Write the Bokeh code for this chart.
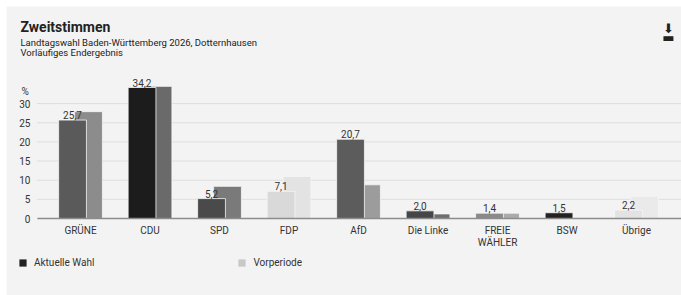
from bokeh.plotting import figure
from bokeh.models import (Range1d, ColumnDataSource, Label, Legend, LegendItem)
from bokeh.core.properties import value
from bokeh.transform import dodge
from bokeh.embed import file_html
from bokeh.resources import INLINE

parties = ["GRÜNE", "CDU", "SPD", "FDP", "AfD", "Die Linke", "FREIE WÄHLER", "BSW", "Übrige"]
axis_labels = ["GRÜNE", "CDU", "SPD", "FDP", "AfD", "Die Linke", "FREIE\nWÄHLER", "BSW", "Übrige"]
current = [25.7, 34.2, 5.2, 7.1, 20.7, 2.0, 1.4, 1.5, 2.2]
previous = [27.9, 34.5, 8.4, 11.0, 8.8, 1.2, 1.4, 0.0, 5.8]
current_labels = ["25,7", "34,2", "5,2", "7,1", "20,7", "2,0", "1,4", "1,5", "2,2"]
current_colors = ["#5a5a5a", "#1c1c1c", "#4a4a4a", "#d9d9d9", "#5c5c5c",
                  "#464646", "#8a8a8a", "#222222", "#e3e3e3"]
previous_colors = ["#8c8c8c", "#6a6a6a", "#7a7a7a", "#e3e3e3", "#9c9c9c",
                   "#6e6e6e", "#ababab", "#bdbdbd", "#eaeaea"]
y_ticks = [0, 5, 10, 15, 20, 25, 30]
y_tick_labels = ["0", "5", "10", "15", "20", "25", "30"]
legend_labels = ["Aktuelle Wahl", "Vorperiode"]
legend_colors = ["#222222", "#c8c8c8"]

FONT = "Roboto"
BG = "#f3f3f3"
TXT = "#333333"

# layout constants (plot frame fills the canvas; ranges chosen to place the chart area)
W, H = 675, 289
X_START, X_END = -1.065, 8.647
Y_START, Y_END = -20.1, 55.35
GRID_X0 = -0.62

idx = list(range(len(parties)))
src = ColumnDataSource(dict(i=idx, party=parties, cur=current, prev=previous,
                            zero=[0] * len(parties), lab=current_labels, xl=axis_labels,
                            cc=current_colors, pc=previous_colors))
grid_src = ColumnDataSource(dict(y=y_ticks, t=y_tick_labels,
                                 x0=[GRID_X0] * len(y_ticks), x1=[X_END] * len(y_ticks)))

p = figure(x_range=Range1d(X_START, X_END), y_range=Range1d(Y_START, Y_END),
           width=W, height=H, output_backend="svg", toolbar_location=None,
           background_fill_color=BG, border_fill_color=BG, outline_line_color=None,
           min_border=0, x_axis_type=None, y_axis_type=None)
p.margin = (6, 0, 0, 6)
p.grid.visible = False

# dotted grid lines and tick labels
p.segment(x0="x0", x1="x1", y0="y", y1="y", source=grid_src,
          line_color="#c9c9c9", line_dash="1 1", line_width=1)
p.text(x="x0", y="y", text="t", source=grid_src, x_offset=-7,
       text_align="right", text_baseline="middle",
       text_font=value(FONT), text_font_size=value("10px"), text_color=TXT)
p.text(x=[GRID_X0], y=[33.2], text=["%"], x_offset=-16,
       text_align="left", text_baseline="middle",
       text_font=value(FONT), text_font_size=value("10px"), text_color=TXT)

off = 0.115
w = 0.40
p.vbar(x=dodge("i", off), top="prev", width=w, source=src,
       fill_color="pc", line_color="#f6f6f6", line_width=0.8)
p.vbar(x=dodge("i", -off), top="cur", width=w, source=src,
       fill_color="cc", line_color="#f6f6f6", line_width=0.8)

# baseline
p.segment(x0=[GRID_X0], x1=[X_END], y0=[0], y1=[0], line_color="#8c8c8c", line_width=1.5)

# value labels
p.text(x=dodge("i", -off), y="cur", text="lab", source=src, y_offset=-1,
       text_align="center", text_baseline="bottom",
       text_font=value(FONT), text_font_size=value("10px"), text_color=TXT)

# category labels
p.text(x="i", y="zero", text="xl", source=src, y_offset=6,
       text_align="center", text_baseline="top", text_line_height=1.1,
       text_font=value(FONT), text_font_size=value("10px"), text_color=TXT)

# header texts (screen pixels, origin at bottom-left of the frame)
def add_text(txt, x, y, size="10px", style="normal", color="#222222", align="left", font=FONT):
    p.add_layout(Label(x=x, y=y, x_units="screen", y_units="screen", text=txt,
                       text_font=font, text_font_size=size, text_font_style=style,
                       text_color=color, text_align=align, text_baseline="middle"))

add_text("Zweitstimmen", 14, 269, size="14px", style="bold")
add_text("Landtagswahl Baden-Württemberg 2026, Dotternhausen", 14, 253.5, size="9.5px")
add_text("Vorläufiges Endergebnis", 14, 243.5, size="9.5px")
# download icon
add_text("⬇", 662, 267, size="13px", align="center", font="DejaVu Sans")
add_text("▬", 662, 258, size="13px", align="center", font="DejaVu Sans")

# legend (zero-height bars act as legend handles)
items = []
for lbl, col in zip(legend_labels, legend_colors):
    r = p.vbar(x=[0], bottom=[0], top=[0], width=0.0, fill_color=col, line_color=None)
    items.append(LegendItem(label=lbl, renderers=[r]))
legend = Legend(items=items, orientation="horizontal", location=(12, 27), spacing=143,
                glyph_width=9, glyph_height=9, label_standoff=7,
                label_text_font=FONT, label_text_font_size="10px", label_text_color=TXT,
                background_fill_alpha=0, border_line_color=None, margin=0, padding=0)
p.add_layout(legend, "center")

open("out.html", "w").write(file_html(p, INLINE))
